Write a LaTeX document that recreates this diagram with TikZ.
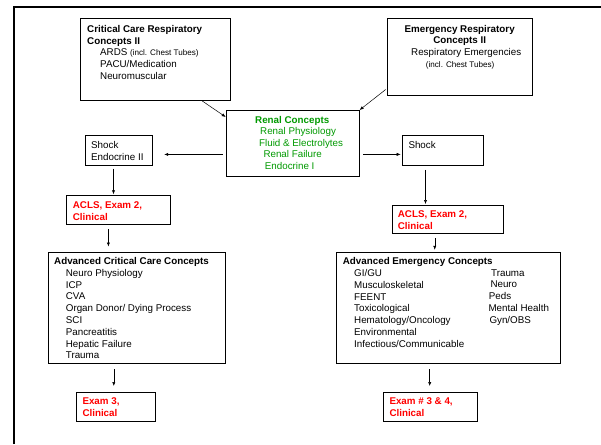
\documentclass[tikz,border=0pt]{standalone}
\usepackage{fontspec}
\setmainfont{Liberation Sans}
\usetikzlibrary{arrows.meta,calc}
\definecolor{rgreen}{RGB}{0,153,0}
\definecolor{rred}{RGB}{255,0,0}
\newcommand{\smalltxt}[1]{{\fontsize{8.1}{11.7}\selectfont #1}}
\begin{document}
\begin{tikzpicture}[x=1pt,y=-1pt,
  box/.style={draw=black, line width=0.9pt, inner sep=0pt, anchor=north west},
  txt/.style={inner sep=0pt, anchor=north west, align=left, font=\fontsize{9.8}{11.7}\selectfont},
  rtxt/.style={txt, text=rred, font=\fontsize{9.8}{12}\selectfont\bfseries},
  arr/.style={-{Latex[length=4pt,width=3.2pt]}, line width=0.5pt, draw=black}
]
\useasboundingbox (0,0) rectangle (601,444);
% outer frame
\draw[line width=2pt] (14.3,444) -- (14.3,7) -- (601,7);

% boxes
\node[box, minimum width=150pt, minimum height=82pt] (ccr) at (80,18) {};
\node[box, minimum width=144.7pt, minimum height=77pt] (er) at (387.3,18.3) {};
\node[box, minimum width=133pt, minimum height=66.3pt] (renal) at (225.7,110) {};
\node[box, minimum width=66.7pt, minimum height=30pt] (shockL) at (85,135) {};
\node[box, minimum width=81.3pt, minimum height=29.7pt] (shockR) at (401.7,135) {};
\node[box, minimum width=104.3pt, minimum height=29pt] (aclsL) at (66,195) {};
\node[box, minimum width=111pt, minimum height=28.3pt] (aclsR) at (392.3,204.7) {};
\node[box, minimum width=177.3pt, minimum height=111.8pt] (acc) at (47.7,251.5) {};
\node[box, minimum width=224.3pt, minimum height=111.8pt] (ae) at (336,251.5) {};
\node[box, minimum width=79.3pt, minimum height=29pt] (exam3) at (75.7,391.7) {};
\node[box, minimum width=94pt, minimum height=29.3pt] (exam34) at (382.7,391.7) {};

% texts
\node[txt] (ccrT) at (87,25) {\textbf{Critical Care Respiratory}\\\textbf{Concepts II}\\
  \hspace*{13pt}ARDS \smalltxt{(incl. Chest Tubes)}\\
  \hspace*{13pt}PACU/Medication\\
  \hspace*{13pt}Neuromuscular};
\node[txt, anchor=north, align=center, font=\fontsize{9.8}{11.2}\selectfont\bfseries] (erT) at (459.7,25) {Emergency Respiratory\\Concepts II};
\node[txt] (erS) at (411,48.3) {Respiratory Emergencies\\\hspace*{14.7pt}\smalltxt{(incl. Chest Tubes)}};
\node[txt, text=rgreen, font=\fontsize{9.8}{11.65}\selectfont] (renalT) at (255,115.7) {\textbf{Renal Concepts}\\
  \hspace*{5pt}Renal Physiology\\
  \hspace*{4pt}Fluid \& Electrolytes\\
  \hspace*{8.3pt}Renal Failure\\
  \hspace*{9.7pt}Endocrine I};
\node[txt, font=\fontsize{9.8}{12}\selectfont] (shockLT) at (91,140.7) {Shock\\Endocrine II};
\node[txt] (shockRT) at (408.3,140.7) {Shock};
\node[rtxt] (aclsLT) at (72.7,201) {ACLS, Exam 2,\\Clinical};
\node[rtxt] (aclsRT) at (397.7,210.3) {ACLS, Exam 2,\\Clinical};
\node[txt, font=\fontsize{9.8}{11.8}\selectfont] (accT) at (54,256.7) {\textbf{Advanced Critical Care Concepts}\\[0.5pt]
  \hspace*{11.7pt}Neuro Physiology\\
  \hspace*{11.7pt}ICP\\
  \hspace*{11.7pt}CVA\\
  \hspace*{11.7pt}Organ Donor/ Dying Process\\
  \hspace*{11.7pt}SCI\\
  \hspace*{11.7pt}Pancreatitis\\
  \hspace*{11.7pt}Hepatic Failure\\
  \hspace*{11.7pt}Trauma};
\node[txt] (aeT) at (342.7,256.7) {\textbf{Advanced Emergency Concepts}};
\node[txt, font=\fontsize{9.8}{11.8}\selectfont] (aeC1) at (354,269.2) {GI/GU\\Musculoskeletal\\FEENT\\Toxicological\\Hematology/Oncology\\Environmental\\Infectious/Communicable};
\node[txt, font=\fontsize{9.8}{11.8}\selectfont] (aeC2) at (488.3,269.2) {\hspace*{2.7pt}Trauma\\\hspace*{2pt}Neuro\\\hspace*{0.4pt}Peds\\Mental Health\\\hspace*{1pt}Gyn/OBS};
\node[rtxt] (exam3T) at (82.3,397) {Exam 3,\\Clinical};
\node[rtxt] (exam34T) at (389.3,397) {Exam \# 3 \& 4,\\Clinical};

% connectors
\draw[arr] ([xshift=46.7pt]ccr.south) -- ([yshift=-7pt]renal.north west);
\draw[arr, shorten <=2pt] ([yshift=-31pt]er.west) -- (renal.north east);
\draw[arr, shorten <=3pt, shorten >=11.6pt] ([yshift=-10.8pt]renal.west) -- ([yshift=-10.8pt]renal.west -| shockL.east);
\draw[arr, shorten <=3.7pt, shorten >=1pt] ([yshift=-10.8pt]renal.east) -- ([yshift=-10.8pt]renal.east -| shockR.west);
\draw[arr, shorten <=2.7pt, shorten >=0.7pt] ([xshift=-5.3pt]shockL.south) -- ([xshift=-5.3pt]shockL.south |- aclsL.north);
\draw[arr, shorten <=4.3pt, shorten >=5pt] ([xshift=-10.2pt]aclsL.south) -- ([xshift=-10.2pt]aclsL.south |- acc.north);
\draw[arr, shorten <=4.3pt, shorten >=0.7pt] ([xshift=-17.3pt]shockR.south) -- ([xshift=-17.3pt]shockR.south |- aclsR.north);
\draw[arr, shorten <=4.3pt, shorten >=1.7pt] ([xshift=-13.5pt]aclsR.south) -- ([xshift=-13.5pt]aclsR.south |- ae.north);
\draw[arr, shorten <=5pt, shorten >=5.7pt] ([xshift=-23pt]acc.south) -- ([xshift=-23pt]acc.south |- exam3.north);
\draw[arr, shorten <=5pt, shorten >=5.7pt] ([xshift=-18.9pt]ae.south) -- ([xshift=-18.9pt]ae.south |- exam34.north);
\end{tikzpicture}
\end{document}
